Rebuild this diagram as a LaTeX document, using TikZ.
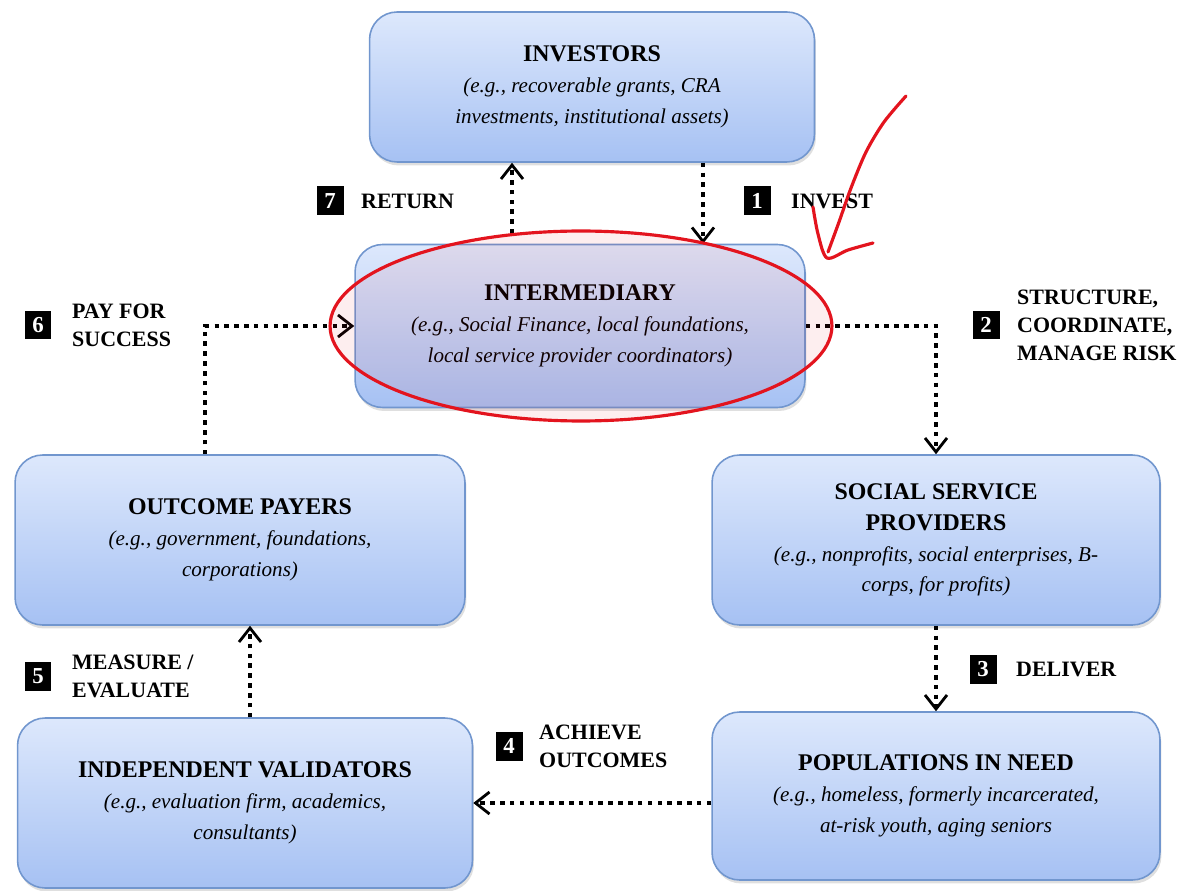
\documentclass[tikz,border=0pt]{standalone}
\usepackage{fontspec}
\setmainfont{LiberationSerif}[Extension=.ttf, UprightFont=*-Regular, BoldFont=*-Bold, ItalicFont=*-Italic, BoldItalicFont=*-BoldItalic]
\usetikzlibrary{
	arrows.meta,
	positioning,
	calc,
	shadows
}
\definecolor{boxtop}{HTML}{DDE8FC}
\definecolor{boxbot}{HTML}{A6C1F3}
\definecolor{boxline}{HTML}{7196CE}
\definecolor{pen}{HTML}{E3141E}

\begin{document}
\begin{tikzpicture}[
			x=0.02cm, y=-0.02cm,
			party/.style={draw=boxline, line width=0.9pt, rounded corners=0.55cm, top color=boxtop, bottom color=boxbot,
				minimum width=9cm, minimum height=3.4cm, align=center, inner sep=2pt,
				font=\fontsize{12}{17.5}\selectfont\itshape,
				drop shadow={opacity=0.25, shadow xshift=0.03cm, shadow yshift=-0.07cm}},
			num/.style={fill=black, text=white, font=\fontsize{13}{14}\selectfont\bfseries, minimum width=0.54cm, minimum height=0.58cm, inner sep=0pt},
			rot/.style={font=\fontsize{12.5}{16}\selectfont\bfseries, align=left, inner sep=0pt},
			fl/.style={line width=2.2pt, dash pattern=on 2.6pt off 3pt, -{Straight Barb[length=0.28cm, width=0.44cm, line width=1.6pt]}},
			pen/.style={draw=pen, line width=1.8pt, line cap=round, line join=round}
		]
		\useasboundingbox (0,0) rectangle (1199,891);

		\node[party, minimum width=8.9cm, minimum height=3cm] (inv) at (592,87) {{\upshape\bfseries\fontsize{13.6}{17.5}\selectfont INVESTORS}\\(e.g., recoverable grants, CRA\\investments, institutional assets)};
		\node[party, minimum height=3.26cm] (mid) at (580,326) {{\upshape\bfseries\fontsize{13.6}{17.5}\selectfont INTERMEDIARY}\\(e.g., Social Finance, local foundations,\\local service provider coordinators)};
		\node[party] (pay) at (240,540) {{\upshape\bfseries\fontsize{13.6}{17.5}\selectfont OUTCOME PAYERS}\\(e.g., government, foundations,\\corporations)};
		\node[party, minimum width=8.96cm] (ssp) at (936,540) {{\upshape\bfseries\fontsize{13.6}{17.5}\selectfont SOCIAL SERVICE}\\{\upshape\bfseries\fontsize{13.6}{17.5}\selectfont PROVIDERS}\\(e.g., nonprofits, social enterprises, B-\\corps, for profits)};
		\node[party, minimum width=9.1cm] (val) at (245,803) {{\upshape\bfseries\fontsize{13.6}{17.5}\selectfont INDEPENDENT VALIDATORS}\\(e.g., evaluation firm, academics,\\consultants)};
		\node[party, minimum width=8.96cm, minimum height=3.36cm] (pop) at (936,796) {{\upshape\bfseries\fontsize{13.6}{17.5}\selectfont POPULATIONS IN NEED}\\(e.g., homeless, formerly incarcerated,\\at-risk youth, aging seniors};

		% step numbers and labels
		\node[num] (n1) at (757,201) {1};
		\node[rot, right=0.4cm of n1] (l1) {INVEST};
		\node[num] (n2) at (986,325) {2};
		\node[rot, right=0.34cm of n2] (l2) {STRUCTURE,\\COORDINATE,\\MANAGE RISK};
		\node[num] (n3) at (983,669) {3};
		\node[rot, right=0.38cm of n3] (l3) {DELIVER};
		\node[num] (n4) at (509,746) {4};
		\node[rot, right=0.32cm of n4] (l4) {ACHIEVE\\OUTCOMES};
		\node[num] (n5) at (38,676) {5};
		\node[rot, right=0.4cm of n5] (l5) {MEASURE /\\EVALUATE};
		\node[num] (n6) at (38,325) {6};
		\node[rot, right=0.4cm of n6] (l6) {PAY FOR\\SUCCESS};
		\node[num] (n7) at (330,201) {7};
		\node[rot, right=0.34cm of n7] (l7) {RETURN};

		\coordinate (inv1) at ($(inv.south)+(111,0)$);
		\coordinate (mid7) at ($(mid.north)+(-68,-10)$);
		\coordinate (val5) at ($(val.north)+(5,0)$);
		\coordinate (pay6) at ($(pay.north)+(-35,0)$);

		\draw[fl] (inv1) -- (inv1 |- mid.north);
		\draw[fl] (mid.east) -| (ssp.north);
		\draw[fl] (ssp.south) -- (pop.north);
		\draw[fl] (pop.west |- val.east) -- (val.east);
		\draw[fl] (val5) -- (val5 |- pay.south);
		\draw[fl] (pay6) |- (mid.west);
		\draw[fl] (mid7) -- (mid7 |- inv.south);

		% red pen marks
		\draw[pen, fill=pen, fill opacity=0.07] (581,326) ellipse [x radius=5.02cm, y radius=1.9cm];
		\draw[pen] plot[smooth] coordinates {(906,96) (884,122) (866,152) (851,188) (839,222) (828,252)};
		\draw[pen] plot[smooth] coordinates {(813,207) (818,234) (827,258) (848,250) (873,243)};
	\end{tikzpicture}
\end{document}
